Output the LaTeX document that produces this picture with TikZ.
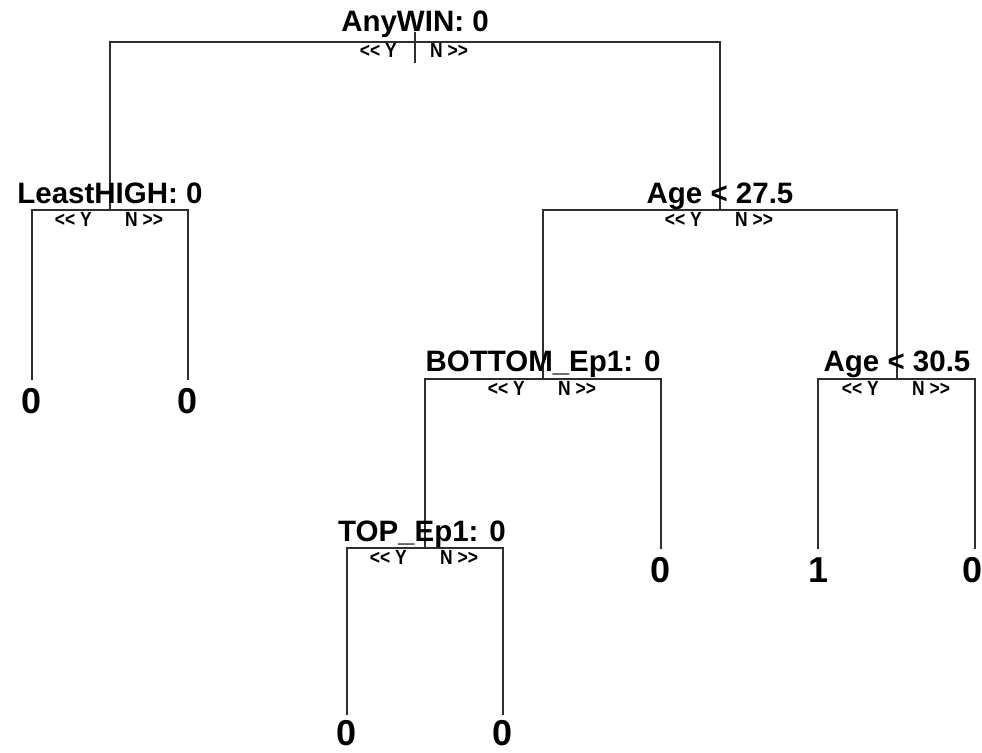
\documentclass[tikz,border=0pt]{standalone}
\usepackage{fontspec}
\setmainfont{Liberation Sans}
\newcommand{\dirleft}{\scalebox{0.85}[1]{{<}{<} Y}}
\newcommand{\dirright}{\scalebox{0.85}[1]{N {>}{>}}}
\begin{document}
\begin{tikzpicture}[x=1pt,y=-1pt,
  edge/.style={line width=2pt, draw=black!82, line cap=rect},
  splitlabel/.style={font=\fontsize{29.5}{30}\selectfont\bfseries, anchor=base, inner sep=0pt},
  yeslabel/.style={font=\fontsize{20.5}{21}\selectfont\bfseries, anchor=base east, inner sep=0pt},
  nolabel/.style={font=\fontsize{20.5}{21}\selectfont\bfseries, anchor=base west, inner sep=0pt},
  leaflabel/.style={font=\fontsize{36}{36}\selectfont\bfseries, anchor=base, inner sep=0pt}]
\useasboundingbox (0,0) rectangle (982,752);

% split points (centre of each horizontal bar)
\coordinate (root) at (415,42);
\coordinate (lh)   at (110,210);
\coordinate (a27)  at (720,210);
\coordinate (bot)  at (543,379);
\coordinate (a30)  at (897,379);
\coordinate (top)  at (425,548);
% leaf ends
\coordinate (l1) at (32,379);
\coordinate (l2) at (188,379);
\coordinate (l3) at (347,714);
\coordinate (l4) at (503,714);
\coordinate (l5) at (661,548);
\coordinate (l6) at (818,548);
\coordinate (l7) at (975,548);

% branches
\draw[edge] (root) -| (lh);
\draw[edge] (root) -| (a27);
\draw[edge] (lh) -| (l1);
\draw[edge] (lh) -| (l2);
\draw[edge] (a27) -| (bot);
\draw[edge] (a27) -| (a30);
\draw[edge] (bot) -| (top);
\draw[edge] (bot) -| (l5);
\draw[edge] (top) -| (l3);
\draw[edge] (top) -| (l4);
\draw[edge] (a30) -| (l6);
\draw[edge] (a30) -| (l7);
\draw[edge] ([yshift=9pt]root) -- ([yshift=-20pt]root);

% split labels
\node[splitlabel] (troot) at ([yshift=10pt]root) {AnyWIN: 0};
\node[splitlabel] (tlh)   at ([yshift=7pt]lh)   {LeastHIGH: 0};
\node[splitlabel] (ta27)  at ([yshift=7pt]a27)  {Age < 27.5};
\node[splitlabel] (tbot)  at ([yshift=8pt]bot)  {BOTTOM\_Ep1: 0};
\node[splitlabel] (ta30)  at ([yshift=8pt]a30)  {Age < 30.5};
\node[splitlabel] (ttop)  at ([xshift=-3pt,yshift=7pt]top) {TOP\_Ep1: 0};

% direction labels
\foreach \s in {root,lh,a27,bot,a30,top}{
  \node[yeslabel] (y\s) at ([xshift=-18pt,yshift=-16pt]\s) {\dirleft};
  \node[nolabel]  (n\s) at ([xshift=15pt,yshift=-16pt]\s)  {\dirright};
}

% leaf labels
\node[leaflabel] (v1) at ([yshift=-34pt]l1) {0};
\node[leaflabel] (v2) at ([yshift=-34pt]l2) {0};
\node[leaflabel] (v3) at ([yshift=-31pt]l3) {0};
\node[leaflabel] (v4) at ([yshift=-31pt]l4) {0};
\node[leaflabel] (v5) at ([yshift=-34pt]l5) {0};
\node[leaflabel] (v6) at ([yshift=-34pt]l6) {1};
\node[leaflabel] (v7) at ([xshift=-3pt,yshift=-34pt]l7) {0};
\end{tikzpicture}
\end{document}
